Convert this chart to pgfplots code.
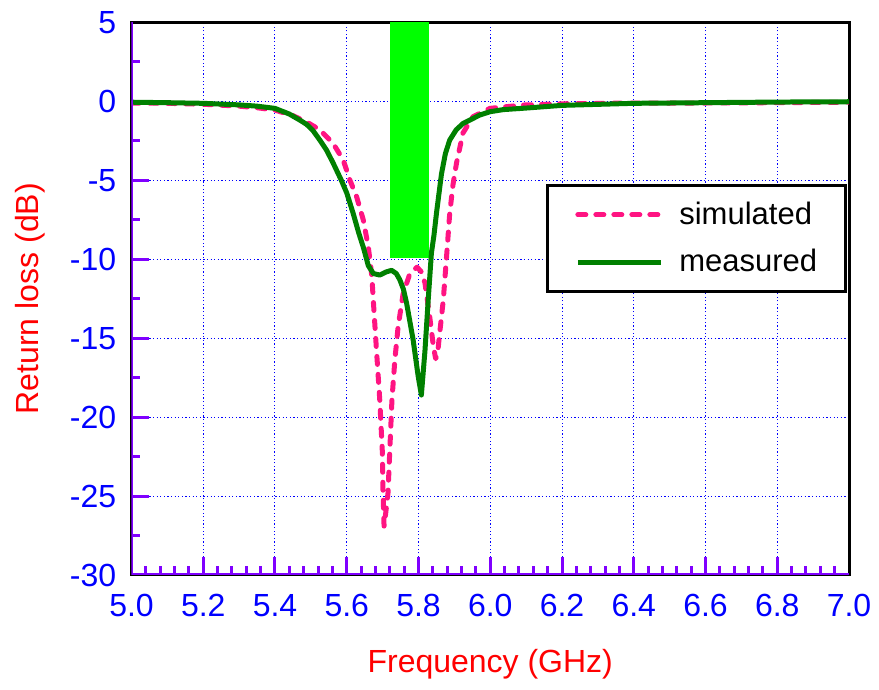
\documentclass[border=0pt]{standalone}
\usepackage{pgfplots}
\pgfplotsset{compat=1.18}
\usepackage{fontspec}
\setmainfont{Liberation Sans}
\definecolor{axpurple}{RGB}{128,0,255}
\definecolor{simpink}{RGB}{255,20,130}
\definecolor{meagreen}{RGB}{0,128,0}
\definecolor{bargreen}{RGB}{0,255,0}
\begin{document}
\begin{tikzpicture}
\path[use as bounding box] (0,0) rectangle (439.5pt,345pt);
\begin{axis}[
  at={(65.75pt,57.5pt)}, anchor=south west,
  scale only axis, width=358.75pt, height=276.25pt,
  xmin=5.0, xmax=7.0, ymin=-30, ymax=5,
  xtick={5.0,5.2,...,7.0},
  xticklabels={5.0,5.2,5.4,5.6,5.8,6.0,6.2,6.4,6.6,6.8,7.0},
  ytick={-30,-25,...,5},
  yticklabels={-30,-25,-20,-15,-10,-5,0,5},
  minor x tick num=4, minor y tick num=1,
  tick align=inside, tick pos=left,
  major tick length=9pt, minor tick length=4.5pt,
  tick style={axpurple, line width=1.5pt},
  axis line style={black, line width=1.5pt},
  grid=major,
  major grid style={blue, line width=0.5pt, dash pattern=on 0.6pt off 1.2pt},
  ticklabel style={font=\fontsize{16}{19}\selectfont, text=blue},
  yticklabel style={xshift=-4.1pt},
  xticklabel style={yshift=-6pt},
  xlabel={Frequency (GHz)}, ylabel={Return loss (dB)},
  label style={font=\fontsize{16}{19}\selectfont, text=red},
  x label style={at={([yshift=-44.5pt]axis description cs:0.5,0)}, anchor=center},
  y label style={at={([xshift=-50.75pt]axis description cs:0,0.5)}, anchor=center},
  legend style={at={(rel axis cs:0.9968,0.7077)}, anchor=north east,
    draw=black, line width=1.5pt, fill=white,
    font=\fontsize{15.5}{18}\selectfont,
    inner xsep=14pt, inner ysep=8.25pt, row sep=11pt, column sep=8pt,
    nodes={inner sep=0pt, anchor=west}},
  legend cell align=left,
  legend image code/.code={\draw[#1] (0pt,0pt) -- (41.5pt,0pt);},
]
\addplot[fill=bargreen, draw=none, forget plot] coordinates {(5.72,-9.9) (5.828,-9.9) (5.828,5) (5.72,5)} -- cycle;
\addplot[simpink, line width=2.5pt, line cap=round, line join=round, dash pattern=on 4pt off 5pt] coordinates {
(5.0,-0.1) (5.1,-0.12) (5.2,-0.18) (5.3,-0.3) (5.35,-0.4) (5.4,-0.55) (5.45,-0.9) (5.488,-1.3) (5.525,-1.8) (5.562,-2.66) (5.59,-3.7) (5.609,-5.0) (5.627,-6.0) (5.646,-7.5) (5.66,-9.2) (5.666,-10.3) (5.67,-11.1) (5.674,-12.6) (5.683,-15.8) (5.692,-18.9) (5.699,-22.1) (5.701,-24.6) (5.704,-26.9) (5.709,-26.0) (5.715,-24.8) (5.72,-22.1) (5.726,-18.9) (5.734,-16.4) (5.743,-14.3) (5.757,-12.2) (5.776,-10.9) (5.796,-10.5) (5.808,-10.8) (5.818,-11.5) (5.831,-13.6) (5.842,-15.6) (5.848,-16.3) (5.854,-15.8) (5.859,-14.7) (5.869,-12.6) (5.878,-9.9) (5.887,-7.1) (5.896,-5.3) (5.906,-3.9) (5.924,-2.0) (5.952,-0.97) (5.999,-0.44) (6.09,-0.23) (6.2,-0.15) (6.4,-0.1) (6.6,-0.1) (6.8,-0.08) (7.0,-0.05)};
\addlegendentry{simulated}
\addplot[meagreen, line width=2.5pt, line join=round] coordinates {
(5.0,-0.05) (5.1,-0.08) (5.2,-0.12) (5.3,-0.22) (5.35,-0.3) (5.4,-0.44) (5.44,-0.8) (5.469,-1.18) (5.488,-1.45) (5.506,-1.85) (5.525,-2.45) (5.544,-3.1) (5.562,-3.9) (5.585,-5.0) (5.6,-5.8) (5.618,-7.1) (5.633,-8.3) (5.647,-9.3) (5.66,-10.4) (5.674,-10.9) (5.692,-11.0) (5.71,-10.8) (5.725,-10.7) (5.738,-10.9) (5.748,-11.3) (5.758,-11.9) (5.767,-12.8) (5.785,-15.1) (5.799,-17.4) (5.808,-18.6) (5.818,-15.8) (5.827,-12.6) (5.836,-9.6) (5.843,-8.5) (5.85,-7.1) (5.864,-4.6) (5.875,-3.3) (5.887,-2.45) (5.905,-1.8) (5.924,-1.4) (5.971,-0.86) (6.0,-0.65) (6.036,-0.52) (6.1,-0.42) (6.2,-0.25) (6.4,-0.12) (6.6,-0.08) (6.8,-0.04) (7.0,-0.02)};
\addlegendentry{measured}
\draw[axpurple, line width=1.5pt] (rel axis cs:0,1) -- (rel axis cs:0,0) -- (rel axis cs:1,0);
\end{axis}
\end{tikzpicture}
\end{document}
